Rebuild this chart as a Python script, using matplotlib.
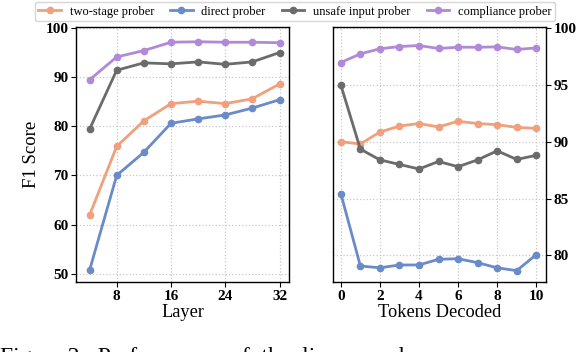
import matplotlib.pyplot as plt
import numpy as np

# layer sweep (left panel)
layers = [4, 8, 12, 16, 20, 24, 28, 32]
two_stage_layer = [61.9, 75.9, 81.1, 84.6, 85.1, 84.6, 85.6, 88.6]
direct_layer = [50.7, 70.0, 74.7, 80.6, 81.5, 82.3, 83.7, 85.4]
unsafe_layer = [79.4, 91.4, 92.9, 92.7, 93.1, 92.6, 93.1, 95.0]
compliance_layer = [89.45, 94.1, 95.4, 97.1, 97.2, 97.1, 97.1, 97.0]

# tokens decoded sweep (right panel)
tokens = [0, 1, 2, 3, 4, 5, 6, 7, 8, 9, 10]
two_stage_tok = [90.0, 89.8, 90.85, 91.38, 91.6, 91.3, 91.8, 91.6, 91.5, 91.26, 91.18]
direct_tok = [85.44, 79.06, 78.9, 79.15, 79.15, 79.65, 79.7, 79.35, 78.9, 78.65, 80.06]
unsafe_tok = [95.0, 89.35, 88.4, 88.0, 87.6, 88.26, 87.8, 88.4, 89.2, 88.44, 88.8]
compliance_tok = [96.97, 97.74, 98.18, 98.38, 98.47, 98.21, 98.32, 98.32, 98.35, 98.12, 98.26]

names = ['two-stage prober', 'direct prober', 'unsafe input prober', 'compliance prober']
colors = ['#f0a07c', '#6a8bc9', '#6b6b6b', '#b08ad8']

plt.rcParams['font.family'] = ['Liberation Serif', 'DejaVu Serif']

fig = plt.figure(figsize=(5.76, 3.52), dpi=100)
ax1 = fig.add_axes([76/576, 1-282/352, 213/576, 255/352])
ax2 = fig.add_axes([333/576, 1-282/352, 213/576, 255/352])

left = [two_stage_layer, direct_layer, unsafe_layer, compliance_layer]
right = [two_stage_tok, direct_tok, unsafe_tok, compliance_tok]

for vals, c, n in zip(left, colors, names):
    ax1.plot(layers, vals, color=c, marker='o', markersize=4.5, linewidth=2, label=n)
for vals, c in zip(right, colors):
    ax2.plot(tokens, vals, color=c, marker='o', markersize=4.5, linewidth=2)

ax1.set_xlim(2, 33.4)
ax1.set_ylim(48.3, 100.2)
ax1.set_xticks([8, 16, 24, 32])
ax1.set_yticks([50, 60, 70, 80, 90, 100])
ax1.set_xlabel('Layer', fontsize=13.2, labelpad=1)
ax1.set_ylabel('F1 Score', fontsize=13.5, labelpad=4)

ax2.set_xlim(-0.4, 10.5)
ax2.set_ylim(77.65, 100.1)
ax2.set_xticks([0, 2, 4, 6, 8, 10])
ax2.set_yticks([80, 85, 90, 95, 100])
ax2.yaxis.tick_right()
ax2.set_xlabel('Tokens Decoded', fontsize=13.2, labelpad=1)

for ax in (ax1, ax2):
    ax.grid(True, linestyle=':', color='#c8c8c8', linewidth=0.9)
    ax.set_axisbelow(True)
    for s in ax.spines.values():
        s.set_color('black')
        s.set_linewidth(1.0)
    ax.tick_params(labelsize=11, length=3.5, pad=2)
    for lab in ax.get_xticklabels() + ax.get_yticklabels():
        lab.set_fontweight('bold')

fig.legend(loc='upper center', bbox_to_anchor=(0.512, 0.998), ncol=4, fontsize=9,
           frameon=True, edgecolor='#cccccc', fancybox=True, handlelength=1.8,
           columnspacing=1.3, borderpad=0.3, handletextpad=0.7, borderaxespad=0.1)

fig.text(0.0, 1-363/352, 'Figure 2:  Performance  of  the  linear  probers', fontsize=17,
         ha='left', va='baseline')

fig.savefig('out.png', dpi=100)
